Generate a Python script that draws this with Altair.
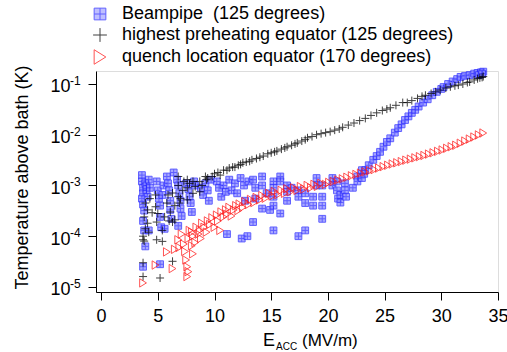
import altair as alt
import pandas as pd

# ---------------- data ----------------
beam_x = [3.6, 3.6, 3.7, 3.7, 3.6, 3.7, 3.8, 3.7, 3.8, 3.9, 3.7, 3.9, 4.0, 4.0, 4.1, 4.2, 4.3, 4.2,
          4.9, 5.0, 5.1, 5.2, 5.2, 5.3, 5.2, 5.5, 5.4, 5.6,
          5.8, 5.9, 6.0, 6.1, 6.1, 6.2, 6.4,
          6.7, 6.8, 6.9, 7.0, 7.0, 7.1, 6.8,
          7.5, 7.7, 7.8, 7.9, 8.0, 8.2, 8.3,
          8.8, 9.0, 9.2, 9.4, 9.5, 9.7,
          10.2, 10.4, 10.6, 10.8, 11.0, 11.1, 11.3, 11.5,
          11.8, 12.0, 12.3, 12.4, 12.6, 12.7, 12.9, 13.0, 13.4, 13.4, 13.6, 13.6,
          14.2, 14.2, 14.2, 14.6, 14.9, 15.2, 15.2, 15.2, 15.2, 15.2, 15.8, 15.8, 15.8, 16.4, 16.4, 16.4, 16.8,
          17.4, 17.4, 17.4, 18.0, 18.0, 18.0, 18.7, 18.7, 19.0, 19.0, 19.5, 19.5, 19.5, 19.5,
          20.4, 20.4, 20.8, 20.8, 20.9, 21.1, 21.1, 21.5, 21.5, 21.6, 22.2, 22.6, 22.6, 23.0, 23.0, 23.2,
          23.3, 23.6, 24.0, 24.3, 24.6, 24.9, 25.2, 25.5, 25.9, 26.2, 26.5, 26.8, 27.1, 27.4, 27.7,
          28.0, 28.4, 28.8, 29.2, 29.6, 30.0, 30.2, 30.6, 31.0, 31.4, 31.7, 32.1, 32.5, 32.9, 33.2,
          33.5, 33.7, 33.3, 33.6]
beam_t = [1.6e-3, 1.2e-3, 9e-4, 7e-4, 5.5e-4, 4.2e-4, 3.2e-4, 2.0e-4, 1.3e-4, 6.3e-5, 2.5e-5, 1.1e-3, 8e-4, 1.0e-3, 6e-4, 1.3e-3, 9e-4, 1.3e-4,
          1.2e-3, 8e-4, 5.5e-4, 4.0e-4, 2.4e-4, 1.5e-4, 2.8e-5, 1.0e-3, 6.5e-4, 1.4e-4,
          1.5e-3, 1.1e-3, 8e-4, 5e-4, 3.3e-4, 2.2e-4, 1.8e-3,
          1.3e-3, 1.0e-3, 7e-4, 5e-4, 3.5e-4, 2.5e-4, 1.6e-4,
          1.1e-3, 8.5e-4, 6e-4, 4.5e-4, 3e-4, 1.2e-3, 1.0e-3,
          9e-4, 6.5e-4, 1.1e-3, 8e-4, 5e-4, 1.3e-3,
          1.2e-3, 9e-4, 6e-4, 1.0e-3, 7.5e-4, 1.1e-4, 1.3e-3, 8e-4,
          1.1e-3, 7e-4, 1.4e-3, 9e-5, 1.0e-3, 5e-4, 1.0e-4, 1.2e-3, 1.3e-3, 1.9e-4, 9e-4, 5.5e-4,
          1.5e-3, 1.0e-3, 3.5e-4, 7e-4, 3.3e-4, 1.2e-3, 9e-4, 6e-4, 4e-4, 1.3e-4, 1.5e-3, 1.2e-3, 2.8e-4, 1.0e-3, 7.5e-4, 5e-4, 9e-4,
          8e-4, 6e-4, 1.0e-4, 7e-4, 4.5e-4, 1.3e-4, 6e-4, 4e-4, 1.4e-3, 1.0e-3, 1.0e-3, 6e-4, 4e-4, 2.2e-4,
          1.4e-3, 1.0e-3, 1.2e-3, 8e-4, 5.5e-4, 6.5e-4, 4.6e-4, 1.1e-3, 8e-4, 6e-4, 9e-4, 1.5e-3, 1.2e-3, 2.0e-3, 1.4e-3, 1.7e-3,
          2.0e-3, 2.5e-3, 3.2e-3, 3.8e-3, 4.6e-3, 5.8e-3, 7.2e-3, 8.5e-3, 1.1e-2, 1.35e-2, 1.6e-2, 1.95e-2, 2.3e-2, 2.7e-2, 3.1e-2,
          3.6e-2, 4.3e-2, 5.0e-2, 6.0e-2, 7.0e-2, 8.0e-2, 8.7e-2, 1.0e-1, 1.12e-1, 1.25e-1, 1.38e-1, 1.45e-1, 1.5e-1, 1.6e-1, 1.65e-1,
          1.7e-1, 1.75e-1, 1.5e-1, 1.6e-1]

heat_x = [3.7, 3.7, 3.8, 3.7, 3.9, 3.8, 3.7, 4.1, 4.1, 4.2, 4.5, 4.8, 4.8, 4.9, 4.9, 5.2, 5.4, 5.4, 5.6,
          5.8, 6.0, 6.3, 6.3, 6.3, 6.5, 6.5, 6.8, 6.8, 6.8, 6.9, 7.2, 7.3, 7.6, 7.6, 7.6, 7.8, 8.1, 8.1,
          8.3, 8.7, 8.7, 8.9, 9.2, 9.3, 3.9, 4.3, 5.0, 5.9, 6.1, 7.0,
          9.4, 9.8, 10.0, 10.3, 10.5, 10.8, 11.1, 11.3, 11.6, 11.8, 12.1, 12.3, 12.5, 12.8, 13.1, 13.3,
          13.7, 14.0, 14.3, 14.7, 15.0, 15.3, 15.5, 15.9, 16.2, 16.4, 16.8, 17.1, 17.3, 17.7, 18.0, 18.2,
          18.6, 19.0, 19.4, 19.8, 20.2, 20.6, 21.0, 21.3, 21.8, 22.3, 22.8, 23.3, 23.8, 24.3, 24.8, 25.2,
          25.5, 26.0, 26.6, 27.0, 27.4, 27.9, 28.3, 28.6, 29.1, 29.5, 29.9, 30.4, 30.8, 31.2, 31.5, 31.9,
          32.3, 32.5, 32.9, 33.2, 33.4, 33.6, 33.7]
heat_t = [1.6e-5, 3.0e-5, 8e-5, 1.0e-4, 1.4e-4, 2.4e-4, 8.5e-5, 3.3e-4, 1.8e-4, 1.2e-4, 2.9e-4, 6.5e-4, 3.8e-4, 1.9e-4, 8.5e-5, 1.5e-5, 1.3e-4, 7.9e-5, 2.4e-4,
          4.5e-4, 2.0e-4, 3.2e-5, 7.1e-4, 1.9e-4, 4.0e-4, 2.1e-4, 1.5e-3, 1.0e-3, 6.0e-4, 4.5e-4, 8e-4, 1.2e-3, 1.3e-3, 9e-4, 5.2e-4, 1.1e-3, 1.2e-3, 7e-4,
          9.5e-4, 1.2e-3, 7.5e-4, 1.0e-3, 1.5e-3, 1.3e-3, 4.5e-4, 5.5e-4, 2.8e-4, 6.5e-4, 3.0e-4, 5.5e-4,
          1.4e-3, 1.5e-3, 1.7e-3, 1.8e-3, 1.6e-3, 2.0e-3, 2.0e-3, 2.2e-3, 2.3e-3, 2.3e-3, 2.5e-3, 2.6e-3, 2.8e-3, 2.9e-3, 3.0e-3, 3.2e-3,
          3.4e-3, 3.6e-3, 3.8e-3, 4.2e-3, 4.4e-3, 4.6e-3, 4.8e-3, 5.2e-3, 5.5e-3, 5.8e-3, 6.2e-3, 6.6e-3, 6.9e-3, 7.5e-3, 8.0e-3, 8.7e-3,
          9.2e-3, 1.0e-2, 1.05e-2, 1.1e-2, 1.15e-2, 1.23e-2, 1.3e-2, 1.4e-2, 1.55e-2, 1.7e-2, 1.9e-2, 2.1e-2, 2.4e-2, 2.7e-2, 3.0e-2, 3.2e-2,
          3.4e-2, 3.8e-2, 4.3e-2, 4.3e-2, 4.7e-2, 5.2e-2, 5.7e-2, 6.0e-2, 6.5e-2, 7.0e-2, 7.6e-2, 8.3e-2, 8.8e-2, 9.2e-2, 9.5e-2, 1.0e-1,
          1.07e-1, 1.1e-1, 1.2e-1, 1.27e-1, 1.32e-1, 1.35e-1, 1.4e-1]

quench_x = [3.7, 4.8, 5.8, 6.3, 6.5, 6.8, 6.9, 7.1, 7.3, 7.4, 7.5, 7.6, 7.6, 7.7, 7.7, 7.8, 8.0, 8.0,
            8.1, 8.1, 8.3, 8.4, 8.6, 8.7, 8.8, 8.9, 9.1, 9.3, 9.4, 9.6, 9.8, 10.0, 10.2, 10.3, 10.5,
            10.6, 10.8, 11.0, 11.1, 11.3, 11.5, 11.7, 11.9,
            12.1, 12.2, 12.5, 12.7, 13.0, 13.2, 13.5, 13.7, 14.0, 14.2, 14.5, 14.8, 15.1, 15.3, 15.6, 15.9,
            16.2, 16.4, 16.7, 17.0, 17.3, 17.6, 17.9, 18.2, 18.5, 18.8, 19.1, 19.4, 19.8, 20.1, 20.5, 20.9,
            21.3, 21.7, 22.1, 22.5, 22.9, 23.3, 23.7, 24.1, 24.5, 24.9, 25.3, 25.7, 26.1, 26.5, 26.9, 27.3,
            27.7, 28.1, 28.5, 28.9, 29.3, 29.7, 30.1, 30.5, 30.9, 31.3, 31.7, 32.1, 32.5, 32.9, 33.3, 33.7]
quench_t = [1.2e-5, 2.7e-5, 4.9e-5, 2.3e-5, 5.5e-5, 8.5e-5, 6.0e-5, 1.1e-4, 7e-5, 5e-5, 3.4e-5, 2.5e-5, 1.6e-5, 2.0e-5, 9e-5, 1.3e-4, 1.2e-4, 6.5e-5,
            4.5e-5, 1.0e-4, 7.5e-5, 1.5e-4, 1.1e-4, 1.3e-4, 9e-5, 1.8e-4, 1.5e-4, 1.2e-4, 2.0e-4, 1.7e-4, 2.3e-4, 1.5e-4, 2.6e-4, 2.0e-4, 1.3e-4,
            3.0e-4, 2.4e-4, 3.3e-4, 2.7e-4, 3.7e-4, 2.5e-4, 3.3e-4, 4.0e-4,
            3.2e-4, 4.3e-4, 3.7e-4, 4.8e-4, 4.2e-4, 5.3e-4, 4.6e-4, 5.8e-4, 5.2e-4, 6.3e-4, 5.6e-4, 7.0e-4, 6.2e-4, 7.6e-4, 6.6e-4, 8.0e-4,
            7.0e-4, 8.6e-4, 7.5e-4, 9.0e-4, 8.0e-4, 9.5e-4, 8.5e-4, 1.0e-3, 9.0e-4, 1.05e-3, 9.6e-4, 1.1e-3, 1.05e-3, 1.15e-3, 1.2e-3, 1.28e-3,
            1.35e-3, 1.45e-3, 1.55e-3, 1.65e-3, 1.75e-3, 1.85e-3, 1.95e-3, 2.05e-3, 2.2e-3, 2.35e-3, 2.5e-3, 2.65e-3, 2.8e-3, 2.95e-3, 3.15e-3, 3.3e-3,
            3.5e-3, 3.7e-3, 3.9e-3, 4.15e-3, 4.4e-3, 4.7e-3, 5.0e-3, 5.4e-3, 5.8e-3, 6.2e-3, 6.8e-3, 7.5e-3, 8.2e-3, 9.0e-3, 9.9e-3, 1.08e-2]

series_names = ["Beampipe\u00a0 (125 degrees)",
                "highest preheating equator (125 degrees)",
                "quench location equator (170 degrees)"]
x_ticks = [0, 5, 10, 15, 20, 25, 30, 35]
y_ticks = [1e-5, 1e-4, 1e-3, 1e-2, 1e-1]
y_exponents = ["-5", "-4", "-3", "-2", "-1"]

rows = []
for name, xs, ts in [(series_names[0], beam_x, beam_t),
                     (series_names[1], heat_x, heat_t),
                     (series_names[2], quench_x, quench_t)]:
    for xv, tv in zip(xs, ts):
        rows.append({"series": name, "E": xv, "T": tv})
df = pd.DataFrame(rows)

# ---------------- styling ----------------
SQ = "M-0.85,-0.85H0.85V0.85H-0.85Z M0,-0.85V0.85 M-0.85,0H0.85"
PLUS = "M-1,0H1 M0,-1V1"
TRI = "M-0.85,-1.05L0.85,0L-0.85,1.05Z"
FONT = "Liberation Sans"

x_scale = alt.Scale(domain=[-0.45, 35], nice=False, zero=False)
y_scale = alt.Scale(type="log", domain=[10**-5.1, 10**-0.744], nice=False)

legend = alt.Legend(orient="none", legendX=-5, legendY=-66, title=None,
                    labelFontSize=18, labelFont=FONT, labelColor="black",
                    symbolSize=190, symbolStrokeWidth=1, labelOffset=13,
                    rowPadding=3, padding=0, labelLimit=600)

points = alt.Chart(df).mark_point(size=64, strokeWidth=1, opacity=0.75).encode(
    x=alt.X("E:Q", scale=x_scale,
            axis=alt.Axis(values=x_ticks, title=None, grid=False, tickSize=8,
                          labelFontSize=18, labelFont=FONT, labelPadding=7,
                          labelColor="black", tickColor="black", domainColor="black",
                          labelFlush=False)),
    y=alt.Y("T:Q", scale=y_scale,
            axis=alt.Axis(values=y_ticks, title="Temperature above bath (K)", grid=False,
                          tickSize=8, labelFontSize=18, labelFont=FONT, labelPadding=18,
                          labelOffset=3,
                          labelColor="black", tickColor="black", domainColor="black",
                          labelExpr="'10'",
                          titleFont=FONT, titleFontSize=18, titleFontWeight="normal",
                          titleColor="black", titleX=-74, titleY=106, titleAngle=-90,
                          titleBaseline="middle", titleAlign="center")),
    shape=alt.Shape("series:N", scale=alt.Scale(domain=series_names, range=[SQ, PLUS, TRI]), legend=legend),
    stroke=alt.Stroke("series:N", scale=alt.Scale(domain=series_names, range=["#2b2bff", "#000000", "#ff1a1a"]), legend=legend),
    fill=alt.Fill("series:N", scale=alt.Scale(domain=series_names, range=["#8c8cff", "transparent", "transparent"]), legend=legend),
)

exps = alt.Chart(pd.DataFrame({"T": y_ticks, "e": y_exponents})).mark_text(
    align="left", baseline="alphabetic", fontSize=12, font=FONT, color="black", dy=1
).encode(text="e:N", x=alt.value(-26), y=alt.Y("T:Q", scale=y_scale))

t_e = alt.Chart(pd.DataFrame({"t": ["E"]})).mark_text(
    align="left", baseline="alphabetic", fontSize=18, font=FONT, color="black"
).encode(text="t:N", x=alt.value(167), y=alt.value(275))
t_acc = alt.Chart(pd.DataFrame({"t": ["ACC"]})).mark_text(
    align="left", baseline="alphabetic", fontSize=10, font=FONT, color="black"
).encode(text="t:N", x=alt.value(180), y=alt.value(279))
t_unit = alt.Chart(pd.DataFrame({"t": ["(MV/m)"]})).mark_text(
    align="left", baseline="alphabetic", fontSize=17, font=FONT, color="black"
).encode(text="t:N", x=alt.value(206), y=alt.value(275))

chart = alt.layer(points, exps, t_e, t_acc, t_unit).properties(
    width=402, height=221,
    autosize=alt.AutoSizeParams(type="none"),
    padding={"left": 96, "top": 71, "right": 9, "bottom": 60},
).configure_view(stroke=None).configure(background="white")

chart.save("out.html", embed_options={"renderer": "svg", "actions": False})
